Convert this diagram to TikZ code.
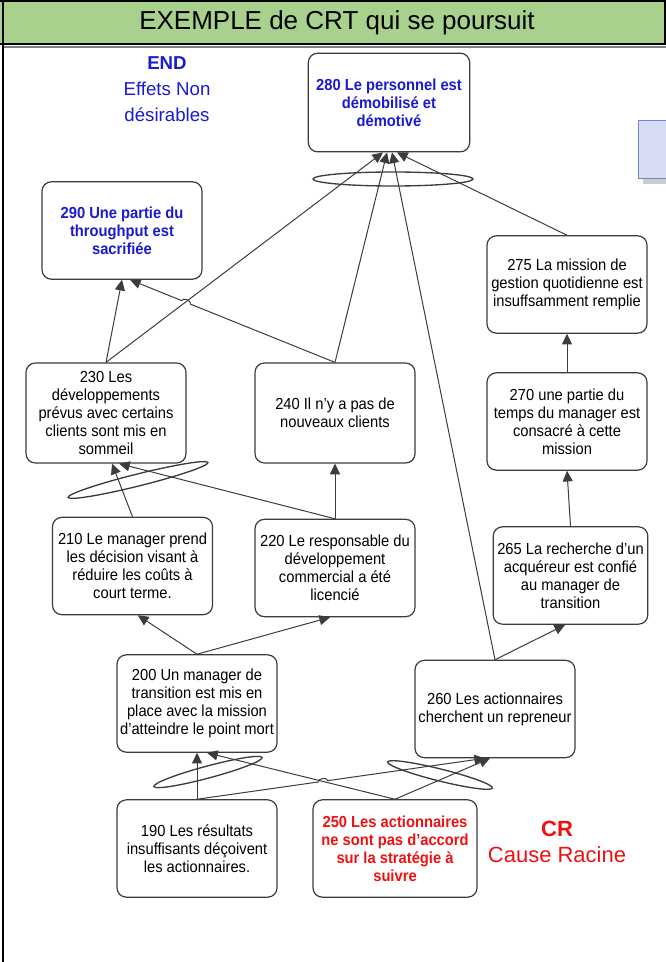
\documentclass[tikz,border=0pt]{standalone}
\usepackage{fontspec}
\setmainfont{Liberation Sans}
\newfontfamily\narrowsf[FakeStretch=0.92]{Liberation Sans}
\usetikzlibrary{arrows.meta,calc}
\definecolor{titlegreen}{HTML}{A9D18E}
\definecolor{udeblue}{HTML}{1A1AD0}
\definecolor{rootred}{HTML}{F01010}
\definecolor{boxgray}{HTML}{3C3C3C}
\definecolor{notefill}{HTML}{D5DCF4}
\definecolor{noteline}{HTML}{7088C8}

\begin{document}
\begin{tikzpicture}[x=0.75pt,y=-0.75pt,
  effect/.style={draw=boxgray,line width=0.9pt,rounded corners=7pt,fill=white,
    minimum width=120pt,minimum height=73pt,inner sep=1.5pt,align=center,
    font=\narrowsf\fontsize{12}{13.6}\selectfont},
  link/.style={-{Triangle[length=8pt,width=7.5pt]},draw=boxgray,line width=0.75pt},
  andring/.style={draw=boxgray,line width=1pt}
]
\useasboundingbox (0,0) rectangle (666,962);
% frame and title bar
\fill[titlegreen] (0,0) rectangle (666,44);
\draw[line width=1pt] (0,1) -- (665,1) -- (665,44) -- (0,44);
\draw[gray,line width=0.8pt] (3,47) -- (666,47);
\draw[line width=1.8pt] (3,0) -- (3,962);
\node[font=\fontsize{19.5}{22}\selectfont] (title) at (337,23) {EXEMPLE de CRT qui se poursuit};
% note box cut by the right edge
\fill[gray!40] (643,125) rectangle (672,184);
\draw[noteline,fill=notefill] (638,120) rectangle (672,178);

% labels
\node[font=\fontsize{14}{19.5}\selectfont,text=udeblue,align=center] (endlbl) at (167,89)
  {\textbf{END}\\Effets Non\\désirables};
\node[font=\fontsize{16.5}{20}\selectfont,text=rootred,align=center] (crlbl) at (557,842)
  {\textbf{CR}\\Cause Racine};

% entities
\node[effect,text=udeblue,font=\narrowsf\bfseries\fontsize{12}{13.6}\selectfont,minimum width=121pt,minimum height=74pt] (e280) at (389,102.5)
  {280 Le personnel est\\démobilisé et\\démotivé};
\node[effect,text=udeblue,font=\narrowsf\bfseries\fontsize{12}{13.6}\selectfont] (e290) at (122,230.5)
  {290 Une partie du\\throughput est\\sacrifiée};
\node[effect] (e275) at (567,284.5) {275 La mission de\\gestion quotidienne est\\insuffsamment remplie};
\node[effect,minimum height=75pt] (e230) at (106,413) {230 Les\\développements\\prévus avec certains\\clients sont mis en\\sommeil};
\node[effect,minimum height=75pt] (e240) at (335,413) {240 Il n’y a pas de\\nouveaux clients};
\node[effect] (e270) at (567,421.5) {270 une partie du\\temps du manager est\\consacré à cette\\mission};
\node[effect] (e210) at (132.5,566) {210 Le manager prend\\les décision visant à\\réduire les coûts à\\court terme.};
\node[effect] (e220) at (335,568) {220 Le responsable du\\développement\\commercial a été\\licencié};
\node[effect,minimum width=116pt] (e265) at (570.5,575.5) {265 La recherche d’un\\acquéreur est confié\\au manager de\\transition};
\node[effect] (e200) at (197,703.5) {200 Un manager de\\transition est mis en\\place avec la mission\\d’atteindre le point mort};
\node[effect] (e260) at (495,709) {260 Les actionnaires\\cherchent un repreneur};
\node[effect] (e190) at (197,848.5) {190 Les résultats\\insuffisants déçoivent\\les actionnaires.};
\node[effect,text=rootred,font=\narrowsf\bfseries\fontsize{12}{13.6}\selectfont,minimum width=123pt] (e250) at (395,848.5)
  {250 Les actionnaires\\ne sont pas d’accord\\sur la stratégie à\\suivre};

% causes into 280
\draw[link] (e230.north) -- ([xshift=-4.5pt]e280.south);
\draw[link] (e240.north) -- ([xshift=-1.5pt]e280.south);
\draw[link] (e260.north) -- ([xshift=2.25pt]e280.south);
\draw[link] (e275.north) -- ([xshift=6pt]e280.south);
\draw[andring] (393,179) ellipse [x radius=80, y radius=7];
% causes into 290
\draw[link] (e230.north) -- (e290.south);
\draw[link] (e240.north) -- ($(e240.north)!0.705!([xshift=6pt]e290.south)$)
  to[bend right=90] ($(e240.north)!0.748!([xshift=6pt]e290.south)$) -- ([xshift=6pt]e290.south);
% right column
\draw[link] (e270.north) -- (e275.south);
\draw[link] (e265.north) -- (e270.south);
\draw[link] (e260.north) -- ([xshift=-4pt]e265.south);
% middle level
\draw[link] (e210.north) -- ([xshift=4.5pt]e230.south);
\draw[link] (e220.north) -- ([xshift=9.75pt]e230.south);
\draw[andring,rotate around={14:(138,480)}] (138,480) ellipse [x radius=72, y radius=6];
\draw[link] (e220.north) -- (e240.south);
\draw[link] (e200.north) -- ([xshift=4pt]e210.south);
\draw[link] (e200.north) -- ([xshift=-3.75pt]e220.south);
% bottom level
\draw[link] (e190.north) -- (e200.south);
\draw[link] (e250.north) -- ([xshift=7.5pt]e200.south);
\draw[andring,rotate around={15:(208,772)}] (208,772) ellipse [x radius=56, y radius=6];
\draw[link] (e190.north) -- ($(e190.north)!0.421!([xshift=-7.5pt]e260.south)$)
  to[bend left=90] ($(e190.north)!0.454!([xshift=-7.5pt]e260.south)$) -- ([xshift=-7.5pt]e260.south);
\draw[link] (e250.north) -- ([xshift=-3.75pt]e260.south);
\draw[andring,rotate around={-14:(440,775)}] (440,775) ellipse [x radius=54, y radius=6];
\end{tikzpicture}
\end{document}
